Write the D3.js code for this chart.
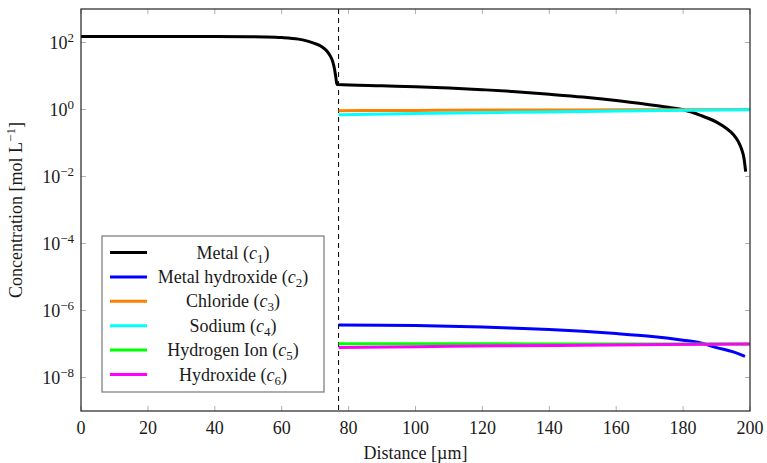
<!DOCTYPE html>
<html><head><meta charset="utf-8">
<script src="https://cdn.jsdelivr.net/npm/d3@7"></script>
</head>
<body style="margin:0"><svg id="c" width="767" height="463"></svg>
<script>
// ---- data ----
const xMetalLeft = [0, 10, 20, 30, 40, 50, 55, 60, 65, 68, 70, 72, 73.5, 74.5, 75.3, 75.8, 76.2, 76.5];
const c1Left     = [150, 150, 150, 150, 150, 149, 147, 141, 126, 108, 93, 75, 56, 40, 26, 16, 9, 5.6];
const xMetalRight = [76.5, 90, 100, 110, 120, 130, 140, 150, 160, 170, 175, 180, 185, 190, 193, 195, 196.5, 197.5, 198.2, 198.7];
const c1Right     = [5.6, 5.1, 4.8, 4.4, 3.9, 3.4, 2.85, 2.35, 1.85, 1.38, 1.18, 0.98, 0.68, 0.42, 0.27, 0.18, 0.11, 0.065, 0.035, 0.014];
const xHydroxideMetal = [77, 90, 100, 110, 120, 130, 140, 150, 160, 170, 180, 185, 190, 195, 198.5];
const c2 = [3.7e-7, 3.65e-7, 3.55e-7, 3.4e-7, 3.2e-7, 2.95e-7, 2.7e-7, 2.4e-7, 2.05e-7, 1.7e-7, 1.3e-7, 1.1e-7, 7.8e-8, 5.8e-8, 4.3e-8];
const xSolution = [77, 100, 125, 150, 175, 200];
const c3 = [0.92, 0.94, 0.96, 0.97, 0.99, 1.0];
const c4 = [0.70, 0.76, 0.82, 0.87, 0.93, 0.98];
const c5 = [1.02e-7, 1.02e-7, 1.01e-7, 1.0e-7, 1.0e-7, 1.0e-7];
const c6 = [7.9e-8, 8.3e-8, 8.8e-8, 9.2e-8, 9.6e-8, 1.0e-7];
const interfaceX = 77;
const xTicks = [0, 20, 40, 60, 80, 100, 120, 140, 160, 180, 200];
const yTickExps = [2, 0, -2, -4, -6, -8];
const names = ["Metal", "Metal hydroxide", "Chloride", "Sodium", "Hydrogen Ion", "Hydroxide"];
const colors = ["#000000", "#0000ff", "#ff8000", "#00ffff", "#00ff00", "#ff00ff"];

// ---- chart ----
const svg = d3.select("#c");
const FONT = "Times New Roman";
const L = 81, R = 750, T = 9, B = 411;
const x = d3.scaleLinear().domain([0, 200]).range([L, R]);
const y = d3.scaleLog().domain([1e-9, 1e3]).range([B, T]);
const line = d3.line().x(d => x(d[0])).y(d => y(d[1]));

// ticks (inside, gray) on all sides
const tickG = svg.append("g").attr("stroke", "#b0b0b0").attr("stroke-width", 1);
xTicks.forEach(t => {
  tickG.append("line").attr("x1", x(t)).attr("x2", x(t)).attr("y1", B).attr("y2", B - 5);
  tickG.append("line").attr("x1", x(t)).attr("x2", x(t)).attr("y1", T).attr("y2", T + 5);
});
yTickExps.forEach(e => {
  tickG.append("line").attr("x1", L).attr("x2", L + 5).attr("y1", y(Math.pow(10, e))).attr("y2", y(Math.pow(10, e)));
  tickG.append("line").attr("x1", R).attr("x2", R - 5).attr("y1", y(Math.pow(10, e))).attr("y2", y(Math.pow(10, e)));
});

// dashed interface line
svg.append("line").attr("x1", x(interfaceX)).attr("x2", x(interfaceX)).attr("y1", T).attr("y2", B)
  .attr("stroke", "#000").attr("stroke-width", 1).attr("stroke-dasharray", "5,4");

// series
const zip = (xs, ys) => xs.map((v, i) => [v, ys[i]]);
const series = [
  [...zip(xMetalLeft, c1Left), ...zip(xMetalRight, c1Right).slice(1)],
  zip(xHydroxideMetal, c2),
  zip(xSolution, c3),
  zip(xSolution, c4),
  zip(xSolution, c5),
  zip(xSolution, c6)
];
series.forEach((s, i) => {
  svg.append("path").attr("d", line.curve(d3.curveMonotoneX)(s)).attr("fill", "none")
    .attr("stroke", colors[i]).attr("stroke-width", 3).attr("stroke-linejoin", "round");
});

// frame
svg.append("rect").attr("x", L).attr("y", T).attr("width", R - L).attr("height", B - T)
  .attr("fill", "none").attr("stroke", "#222").attr("stroke-width", 1.2);

const txt = (sel) => sel.append("text").attr("font-family", FONT).attr("fill", "#1a1a1a");

// x tick labels
const fs = 18, fsSmall = 13;
xTicks.forEach(t => {
  txt(svg).attr("x", x(t)).attr("y", 434).attr("text-anchor", "middle")
    .attr("font-size", fs).text(t);
});
// y tick labels
yTickExps.forEach(e => {
  const tx = txt(svg).attr("x", 74).attr("y", y(Math.pow(10, e)) + 6).attr("text-anchor", "end")
    .attr("font-size", fs);
  tx.append("tspan").text("10");
  tx.append("tspan").attr("dy", -7).attr("font-size", fsSmall).text(e < 0 ? "\u2212" + (-e) : e);
});

// axis titles
txt(svg).attr("x", x(100)).attr("y", 459).attr("text-anchor", "middle").attr("font-size", fs)
  .text("Distance [\u00b5m]");
const yt = txt(svg).attr("transform", `translate(22,${(T + B) / 2}) rotate(-90)`)
  .attr("text-anchor", "middle").attr("font-size", fs);
yt.append("tspan").text("Concentration [mol L");
yt.append("tspan").attr("dy", -7).attr("font-size", fsSmall).text("\u22121");
yt.append("tspan").attr("dy", 7).text("]");

// legend
const lg = svg.append("g");
lg.append("rect").attr("x", 102).attr("y", 236).attr("width", 222).attr("height", 156)
  .attr("fill", "#fff").attr("stroke", "#777").attr("stroke-width", 1.2);
names.forEach((n, i) => {
  const yy = 252.5 + i * 24.4;
  lg.append("line").attr("x1", 110).attr("x2", 147).attr("y1", yy).attr("y2", yy)
    .attr("stroke", colors[i]).attr("stroke-width", 3);
  const t = txt(lg).attr("x", 233).attr("y", yy + 6).attr("text-anchor", "middle")
    .attr("font-size", fs);
  t.append("tspan").text(n + " (");
  t.append("tspan").attr("font-style", "italic").text("c");
  t.append("tspan").attr("dy", 4).attr("font-size", fsSmall).text(i + 1);
  t.append("tspan").attr("dy", -4).text(")");
});
</script></body></html>
